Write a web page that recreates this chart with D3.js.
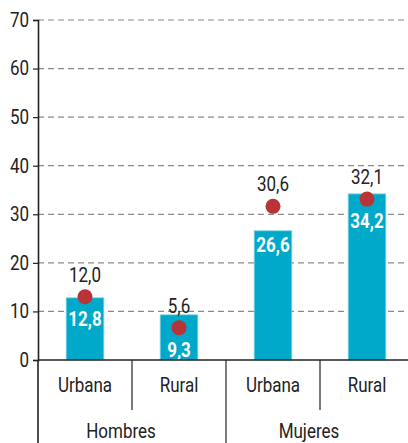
<!DOCTYPE html>
<html>
<head>
<meta charset="utf-8">
<script src="https://cdn.jsdelivr.net/npm/d3@7"></script>
<style>
  body { margin: 0; background: #fff; }
  svg text { font-family: "Roboto", "Liberation Sans", sans-serif; font-size: 20px; }
</style>
</head>
<body>
<div id="chart"></div>
<script>
// data
var groups = ["Hombres", "Mujeres"];
var areas = ["Urbana", "Rural"];
var bar_values = [12.8, 9.3, 26.6, 34.2];
var dot_values = [12.0, 5.6, 30.6, 32.1];
var y_ticks = [0, 10, 20, 30, 40, 50, 60, 70];

var width = 408,
    height = 443,
    margin = { top: 20, left: 38, bottom: 83 },
    band = 94,
    squeeze = 0.85,   // condensed look
    bar_color = "#00a8ca",
    dot_color = "#b83437",
    fmt = function(v) { return v.toFixed(1).replace(".", ","); };

var cats = [];
groups.forEach(function(g) {
    areas.forEach(function(a) { cats.push(g + "|" + a); });
});
var rows = cats.map(function(c, i) {
    return { key: c, group: c.split("|")[0], area: c.split("|")[1], bar: bar_values[i], dot: dot_values[i] };
});

var svg = d3.select("#chart").append("svg")
    .attr("width", width)
    .attr("height", height);

var x = d3.scaleBand()
    .domain(cats)
    .range([margin.left, margin.left + band * cats.length])
    .paddingInner(0.6)
    .paddingOuter(0.3);

var y = d3.scaleLinear()
    .domain([0, 70])
    .range([height - margin.bottom, margin.top]);

function place(sel, fx, fy) {
    sel.attr("transform", function(d, i) {
        return "translate(" + fx(d, i) + "," + fy(d, i) + ") scale(" + squeeze + ",1)";
    });
}
function cx(d) { return x(d.key) + x.bandwidth() / 2; }

// grid
svg.append("g")
    .selectAll("line")
    .data(y_ticks.filter(function(d) { return d > 0; }))
    .enter().append("line")
    .attr("x1", margin.left)
    .attr("x2", width)
    .attr("y1", function(d) { return y(d); })
    .attr("y2", function(d) { return y(d); })
    .attr("stroke", "#8a8a8a")
    .attr("stroke-width", 1.2)
    .attr("stroke-dasharray", "6,4");

// y axis
var y_axis = svg.append("g")
    .attr("transform", "translate(" + margin.left + ",0)")
    .call(d3.axisLeft(y).tickValues(y_ticks).tickSize(5).tickPadding(4));
y_axis.select(".domain").attr("stroke", "#222").attr("stroke-width", 1.6);
y_axis.selectAll(".tick line").attr("stroke", "#222").attr("stroke-width", 1.2);
y_axis.selectAll(".tick text")
    .attr("fill", "#222")
    .attr("font-size", null)
    .attr("font-family", null)
    .attr("x", -9 / squeeze)
    .attr("transform", "scale(" + squeeze + ",1)");

// bars
svg.append("g")
    .selectAll("rect")
    .data(rows)
    .enter().append("rect")
    .attr("x", function(d) { return x(d.key); })
    .attr("width", x.bandwidth())
    .attr("y", function(d) { return y(d.bar); })
    .attr("height", function(d) { return y(0) - y(d.bar); })
    .attr("fill", bar_color)
    .attr("stroke", "#7fd3e4")
    .attr("stroke-width", 0.8);

// dots sit a bit above their value
var dot_shift = -5;
function dot_y(d) { return y(d.dot) + dot_shift; }

svg.append("g")
    .selectAll("circle")
    .data(rows)
    .enter().append("circle")
    .attr("cx", cx)
    .attr("cy", dot_y)
    .attr("r", 7.5)
    .attr("fill", dot_color);

// dot labels
svg.append("g")
    .selectAll("text")
    .data(rows)
    .enter().append("text")
    .call(place, cx, function(d) { return dot_y(d) - 22; })
    .attr("dy", "0.35em")
    .attr("text-anchor", "middle")
    .attr("fill", "#222")
    .text(function(d) { return fmt(d.dot); });

// bar labels
svg.append("g")
    .selectAll("text")
    .data(rows)
    .enter().append("text")
    .call(place, cx, function(d) { return Math.max(y(d.bar) + 14, dot_y(d) + 22); })
    .attr("dy", "0.35em")
    .attr("text-anchor", "middle")
    .attr("fill", "#fff")
    .style("font-weight", "bold")
    .text(function(d) { return fmt(d.bar); });

// x axis
var base = y(0);
svg.append("line")
    .attr("x1", margin.left)
    .attr("x2", width)
    .attr("y1", base)
    .attr("y2", base)
    .attr("stroke", "#222")
    .attr("stroke-width", 1.6);

var cat_left = function(i) { return x(cats[i]) - x.step() * x.paddingOuter(); };

// dividers between categories
svg.append("g")
    .selectAll("line")
    .data(d3.range(cats.length))
    .enter().append("line")
    .attr("x1", function(i) { return cat_left(i); })
    .attr("x2", function(i) { return cat_left(i); })
    .attr("y1", base)
    .attr("y2", function(i) { return i % areas.length == 0 ? height : base + 50; })
    .attr("stroke", "#222")
    .attr("stroke-width", function(i) { return i == 0 ? 1.6 : 1.2; });

// area labels
svg.append("g")
    .selectAll("text")
    .data(rows)
    .enter().append("text")
    .call(place, cx, function() { return base + 25; })
    .attr("dy", "0.35em")
    .attr("text-anchor", "middle")
    .attr("fill", "#222")
    .text(function(d) { return d.area; });

// group labels
svg.append("g")
    .selectAll("text")
    .data(groups)
    .enter().append("text")
    .call(place, function(g, i) { return cat_left(i * areas.length) + band * areas.length / 2 - 11; },
        function() { return base + 71; })
    .attr("dy", "0.35em")
    .attr("text-anchor", "middle")
    .attr("fill", "#222")
    .text(function(g) { return g; });
</script>
</body>
</html>
